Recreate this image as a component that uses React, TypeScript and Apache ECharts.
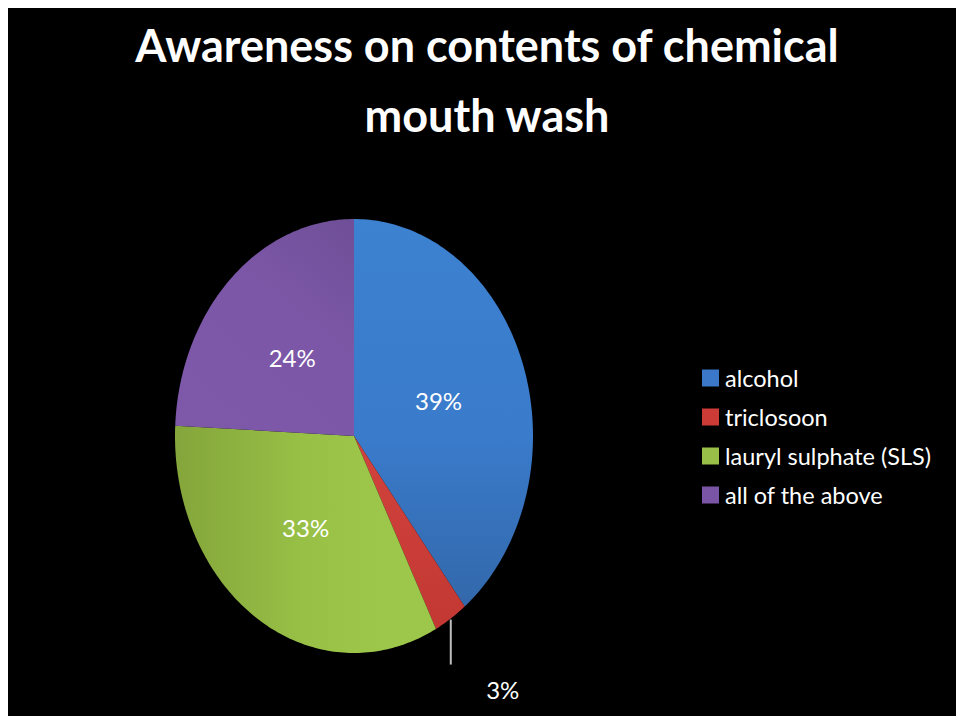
import React, { useEffect, useRef } from "react";
import * as echarts from "echarts";

const titleText = "Awareness on contents of chemical\nmouth wash";
const categories = ["alcohol", "triclosoon", "lauryl sulphate (SLS)", "all of the above"];
const values = [39, 3, 33, 24];
const valueLabels = ["39%", "3%", "33%", "24%"];
const colors = ["#3B78C9", "#CC3B36", "#98BF47", "#7A55A5"];
const gradientStops = [
  ["#3D81D1", "#3A7BCB", "#3163A2"],
  ["#D2433D", "#CE3E38", "#C33833"],
  ["#84A53B", "#98C046", "#9DC74A"],
  ["#7E59AA", "#7C57A7", "#6F4F97"],
];

const CX = 346;
const CY = 428;
const RX = 179;
const RY = 217;
const FONT = "Lato, 'Open Sans', sans-serif";

function ellPoint(t: number, f: number) {
  return [CX + RX * f * Math.sin(t), CY - RY * f * Math.cos(t)];
}

function makeFill(i: number) {
  const s = gradientStops[i];
  if (i === 0) {
    return new echarts.graphic.LinearGradient(0, CY - RY, 0, CY + RY, [
      { offset: 0, color: s[0] },
      { offset: 0.5, color: s[1] },
      { offset: 1, color: s[2] },
    ], true);
  }
  if (i === 2) {
    return new echarts.graphic.LinearGradient(CX - RX, 0, CX + RX * 0.2, 0, [
      { offset: 0, color: s[0] },
      { offset: 0.6, color: s[1] },
      { offset: 1, color: s[2] },
    ], true);
  }
  if (i === 3) {
    return new echarts.graphic.LinearGradient(CX - RX, CY, CX, CY - RY, [
      { offset: 0, color: s[0] },
      { offset: 0.6, color: s[1] },
      { offset: 1, color: s[2] },
    ], true);
  }
  return new echarts.graphic.LinearGradient(0, 0, 0, 1, [
    { offset: 0, color: s[0] },
    { offset: 1, color: s[2] },
  ]);
}

export default function App() {
  const ref = useRef<HTMLDivElement>(null);
  useEffect(() => {
    if (!ref.current) return;
    const chart = echarts.init(ref.current, undefined, { renderer: "svg" });
    const total = values.reduce((a, b) => a + b, 0);

    const series = categories.map((name, idx) => ({
      type: "custom",
      name,
      coordinateSystem: "none",
      itemStyle: { color: colors[idx] },
      data: [[values[idx]]],
      renderItem: (params: any, api: any) => {
        const before = values.slice(0, idx).reduce((a, b) => a + b, 0);
        const v = api.value(0) as number;
        const a0 = (before / total) * Math.PI * 2;
        const a1 = ((before + v) / total) * Math.PI * 2;
        const steps = Math.max(4, Math.ceil(((a1 - a0) * 180) / Math.PI));
        const pts: number[][] = [[CX, CY]];
        for (let k = 0; k <= steps; k++) {
          pts.push(ellPoint(a0 + ((a1 - a0) * k) / steps, 1));
        }
        const mid = (a0 + a1) / 2;
        const children: any[] = [
          {
            type: "polygon",
            shape: { points: pts },
            style: { fill: makeFill(idx), stroke: null },
          },
        ];
        const pct = v / total;
        if (pct > 0.05) {
          const p = ellPoint(mid, 0.5);
          children.push({
            type: "text",
            style: {
              text: valueLabels[idx],
              x: p[0],
              y: p[1],
              fill: "#FFFFFF",
              fontSize: 24,
              fontFamily: FONT,
              align: "center",
              verticalAlign: "middle",
            },
            z2: 10,
          });
        } else {
          const e = ellPoint(mid, 1);
          children.push({
            type: "line",
            shape: { x1: e[0], y1: e[1] + 1, x2: e[0], y2: e[1] + 46 },
            style: { stroke: "#BFBFBF", lineWidth: 2 },
            z2: 10,
          });
          children.push({
            type: "text",
            style: {
              text: valueLabels[idx],
              x: e[0] + 52,
              y: e[1] + 71,
              fill: "#FFFFFF",
              fontSize: 24,
              fontFamily: FONT,
              align: "center",
              verticalAlign: "middle",
            },
            z2: 10,
          });
        }
        return { type: "group", children };
      },
    }));

    chart.setOption({
      animation: false,
      backgroundColor: "#000000",
      title: {
        text: titleText,
        left: 479,
        textAlign: "center",
        top: 2,
        padding: 0,
        textStyle: {
          color: "#FFFFFF",
          fontSize: 45,
          fontWeight: "bold",
          fontFamily: FONT,
          lineHeight: 70,
        },
      },
      legend: {
        orient: "vertical",
        left: 694,
        top: 358,
        padding: 0,
        itemWidth: 17,
        itemHeight: 17,
        itemGap: 15,
        icon: "rect",
        data: categories,
        selectedMode: false,
        textStyle: {
          color: "#FFFFFF",
          fontSize: 23.5,
          lineHeight: 24,
          fontFamily: FONT,
          padding: [0, 0, 0, 1],
        },
      },
      series,
    });
    return () => chart.dispose();
  }, []);
  return (
    <div
      ref={ref}
      style={{ position: "absolute", left: 8, top: 8, width: 948, height: 708 }}
    />
  );
}
